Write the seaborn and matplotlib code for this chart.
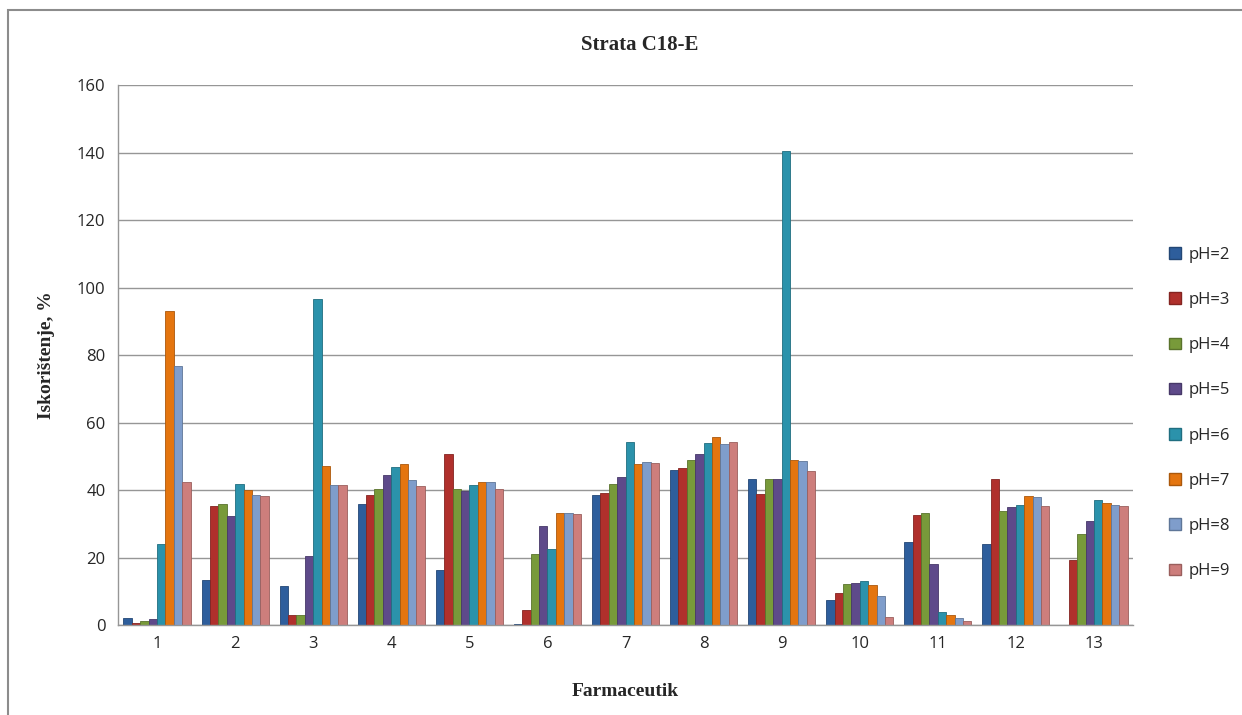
import pandas as pd
import numpy as np
import matplotlib.pyplot as plt
import matplotlib.patches as mpatches
import matplotlib.colors as mcolors
import seaborn as sns

# Values (recovery, %)
farmaceutik = [str(i) for i in range(1, 14)]
ph_labels = ['pH=2', 'pH=3', 'pH=4', 'pH=5', 'pH=6', 'pH=7', 'pH=8', 'pH=9']

ph2 = [2.0, 13.3, 11.5, 36.0, 16.2, 0.4, 38.6, 45.9, 43.4, 7.5, 24.7, 24.1, 0.0]
ph3 = [0.5, 35.4, 3.0, 38.6, 50.8, 4.4, 39.2, 46.5, 38.8, 9.4, 32.7, 43.4, 19.2]
ph4 = [1.2, 36.0, 3.0, 40.3, 40.3, 21.0, 41.9, 49.0, 43.4, 12.1, 33.1, 33.8, 27.1]
ph5 = [1.8, 32.4, 20.3, 44.4, 39.6, 29.4, 43.8, 50.8, 43.4, 12.4, 18.2, 35.1, 30.9]
ph6 = [24.0, 41.9, 96.5, 46.9, 41.6, 22.6, 54.2, 54.0, 140.5, 13.1, 4.0, 35.7, 36.9]
ph7 = [93.0, 40.0, 47.2, 47.6, 42.3, 33.3, 47.6, 55.7, 49.0, 11.8, 3.1, 38.3, 36.1]
ph8 = [76.8, 38.5, 41.6, 43.1, 42.3, 33.3, 48.4, 53.5, 48.6, 8.7, 2.1, 37.9, 35.7]
ph9 = [42.4, 38.1, 41.6, 41.3, 40.3, 33.0, 48.1, 54.2, 45.6, 2.4, 1.2, 35.4, 35.4]

colors = ['#2E5E9C', '#B0302C', '#789A3A', '#5E4A8A', '#2B92AB',
          '#E4750F', '#7F9DCB', '#CD7E7C']

series = [ph2, ph3, ph4, ph5, ph6, ph7, ph8, ph9]
rows = []
for lab, vals in zip(ph_labels, series):
    for f, v in zip(farmaceutik, vals):
        rows.append({'Farmaceutik': f, 'pH': lab, 'val': v})
df = pd.DataFrame(rows)

sns.set_style('white')
fig = plt.figure(figsize=(12.42, 7.15), dpi=100)
ax = fig.add_axes([118 / 1242, 1 - 625 / 715, (1133 - 118) / 1242, (625 - 85) / 715])

sns.barplot(data=df, x='Farmaceutik', y='val', hue='pH', palette=colors,
            width=0.86, ax=ax, legend=False, saturation=1)

for p in ax.patches:
    c = np.array(p.get_facecolor()[:3]) * 0.75
    p.set_edgecolor(c)
    p.set_linewidth(0.6)

ax.set_ylim(0, 160)
ax.set_xlim(-0.5, 12.5)
ax.set_yticks(range(0, 161, 20))
ax.yaxis.grid(True, color='#969696', linewidth=1)
ax.set_axisbelow(True)
for s in ['top', 'right']:
    ax.spines[s].set_visible(False)
for s in ['left', 'bottom']:
    ax.spines[s].set_color('#969696')
    ax.spines[s].set_linewidth(1)

ax.tick_params(axis='y', length=5, color='#969696', labelsize=12, pad=4)
ax.tick_params(axis='x', which='major', length=0, labelsize=12, pad=8)
ax.set_xticks(np.arange(-0.5, 13.0, 1.0), minor=True)
ax.tick_params(axis='x', which='minor', length=6, color='#969696')
for lbl in ax.get_xticklabels() + ax.get_yticklabels():
    lbl.set_fontfamily('Open Sans')

ax.set_xlabel('Farmaceutik', fontfamily='Liberation Serif', fontweight='bold',
              fontsize=14, labelpad=22)
ax.set_ylabel('Iskorištenje, %', fontfamily='Liberation Serif', fontweight='bold',
              fontsize=14, labelpad=16)
fig.text(640 / 1242, 1 - 45 / 715, 'Strata C18-E', ha='center', va='center',
         fontfamily='Liberation Serif', fontweight='bold', fontsize=15)

handles = [mpatches.Patch(facecolor=c, edgecolor=np.array(mcolors.to_rgb(c)) * 0.75,
                          label=l)
           for c, l in zip(colors, ph_labels)]
leg = fig.legend(handles=handles, loc='upper left',
                 bbox_to_anchor=(1154 / 1242, 1 - 232 / 715), frameon=False,
                 prop={'family': 'Open Sans', 'size': 12}, labelspacing=1.75,
                 handlelength=0.7, handleheight=0.7, handletextpad=0.45)

# outer chart frame (partially visible)
fig.patches.append(mpatches.Rectangle((8 / 1242, -0.05), 1.2, 1 - 10 / 715 + 0.05,
                                      transform=fig.transFigure, fill=False,
                                      edgecolor='#8c8c8c', linewidth=1.5))

fig.savefig('out.png', dpi=100)
